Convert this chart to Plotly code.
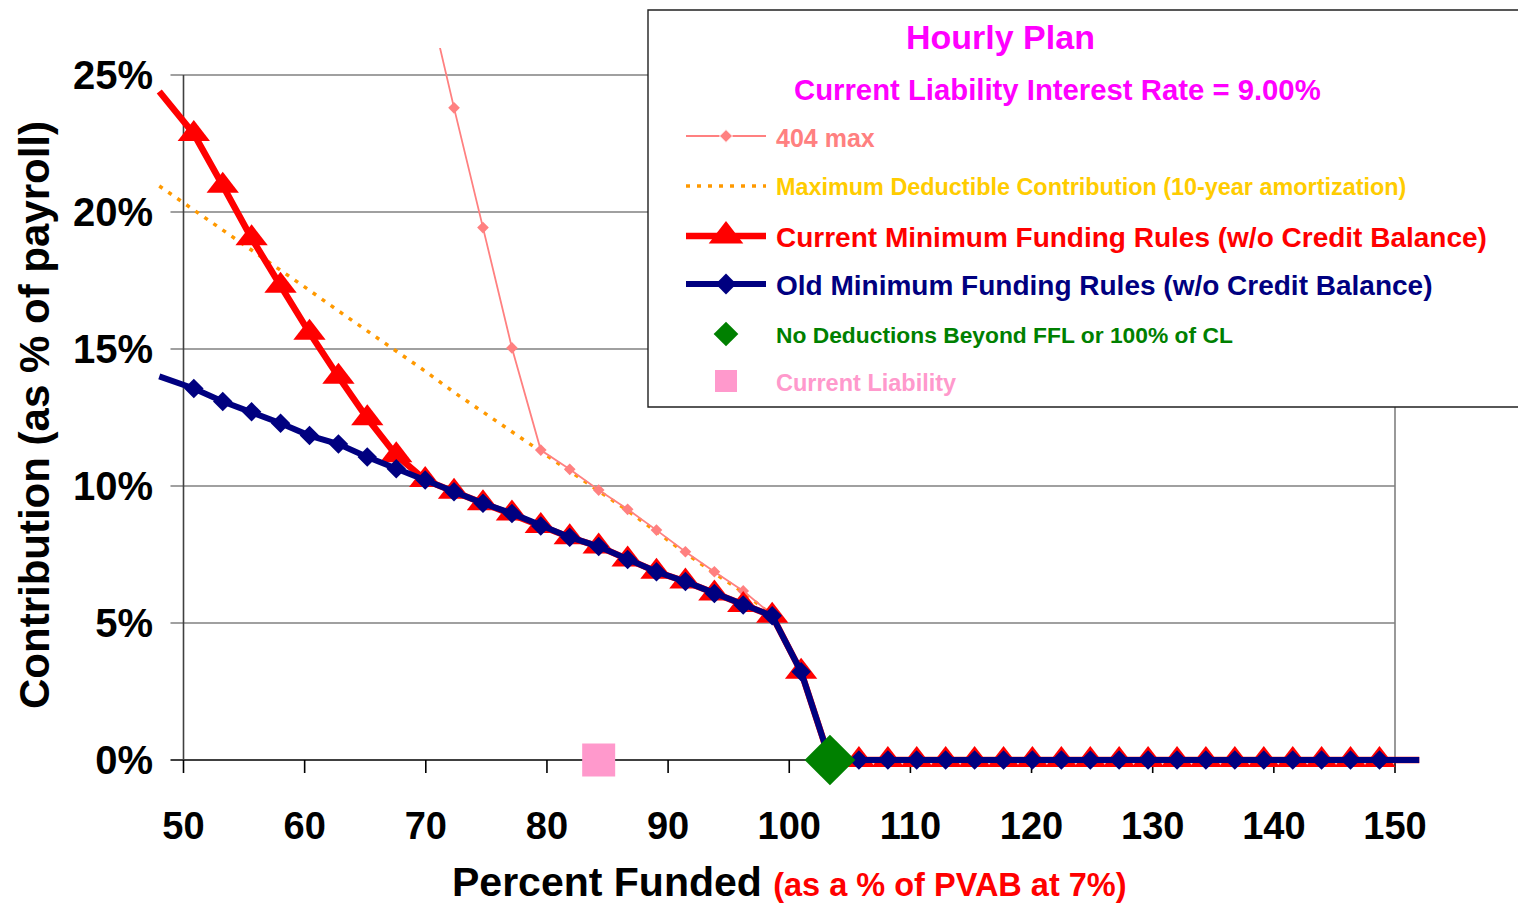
import plotly.graph_objects as go

# ---------------------------------------------------------------------------
# Data: contribution as % of payroll vs. percent funded (as % of PVAB at 7%)
# ---------------------------------------------------------------------------
funded = [48.00, 50.85, 53.24, 55.62, 58.01, 60.40, 62.79, 65.17, 67.56, 69.95,
          72.33, 74.72, 77.11, 79.49, 81.88, 84.27, 86.66, 89.04, 91.43, 93.82,
          96.20, 98.59, 100.98, 103.36, 105.75, 108.14, 110.52, 112.91, 115.30, 117.69,
          120.07, 122.46, 124.85, 127.23, 129.62, 132.01, 134.39, 136.78, 139.17, 141.56,
          143.94, 146.33, 148.72, 152.00]

max_404 = [None, None, None, None, None, None, None, None, None, 28.30,
           23.80, 19.43, 15.04, 11.31, 10.61, 9.85, 9.15, 8.39, 7.60, 6.87,
           6.17, 5.30, None, None, None, None, None, None, None, None,
           None, None, None, None, None, None, None, None, None, None,
           None, None, None, None]

max_deductible = [20.95, 20.08, 19.35, 18.59, 17.87, 17.14, 16.39, 15.67, 14.91, 14.19,
                  13.42, 12.70, 11.97, 11.25, 10.55, 9.80, 9.10, 8.33, 7.55, 6.82,
                  6.12, 5.28, None, None, None, None, None, None, None, None,
                  None, None, None, None, None, None, None, None, None, None,
                  None, None, None, None]

current_rules = [24.40, 22.85, 20.96, 19.04, 17.31, 15.59, 13.99, 12.47, 11.12, 10.22,
                 9.79, 9.37, 9.00, 8.54, 8.13, 7.79, 7.32, 6.87, 6.51, 6.08,
                 5.66, 5.26, 3.22, 0.00, 0.00, 0.00, 0.00, 0.00, 0.00, 0.00,
                 0.00, 0.00, 0.00, 0.00, 0.00, 0.00, 0.00, 0.00, 0.00, 0.00,
                 0.00, 0.00, 0.00, 0.00]

old_rules = [14.00, 13.56, 13.08, 12.71, 12.29, 11.84, 11.53, 11.06, 10.63, 10.22,
             9.79, 9.37, 9.00, 8.54, 8.13, 7.79, 7.32, 6.87, 6.51, 6.08,
             5.66, 5.26, 3.22, 0.00, 0.00, 0.00, 0.00, 0.00, 0.00, 0.00,
             0.00, 0.00, 0.00, 0.00, 0.00, 0.00, 0.00, 0.00, 0.00, 0.00,
             0.00, 0.00, 0.00, 0.00]

ffl_funded = [103.36]
ffl_value = [0.0]
cl_funded = [84.27]
cl_value = [0.0]

x_ticks = [50, 60, 70, 80, 90, 100, 110, 120, 130, 140, 150]
x_tick_labels = ["50", "60", "70", "80", "90", "100", "110", "120", "130", "140", "150"]
y_ticks = [0, 5, 10, 15, 20, 25]
y_tick_labels = ["0%", "5%", "10%", "15%", "20%", "25%"]

legend_title = "Hourly Plan"
legend_subtitle = "Current Liability Interest Rate = 9.00%"
names = ["404 max",
         "Maximum Deductible Contribution (10-year amortization)",
         "Current Minimum Funding Rules (w/o Credit Balance)",
         "Old Minimum Funding Rules (w/o Credit Balance)",
         "No Deductions Beyond FFL or 100% of CL",
         "Current Liability"]

# ---------------------------------------------------------------------------
# Geometry (pixels) and conversions
# ---------------------------------------------------------------------------
W, H = 1518, 906
PL, PR, PT, PB = 154, 1422, 48, 800
X_RANGE = [47.565, 152.229]
Y_RANGE = [-1.460, 25.985]


def px_x(px):
    return X_RANGE[0] + (px - PL) / (PR - PL) * (X_RANGE[1] - X_RANGE[0])


def px_y(py):
    return Y_RANGE[0] + (PB - py) / (PB - PT) * (Y_RANGE[1] - Y_RANGE[0])


def paper_x(px):
    return (px - PL) / (PR - PL)


def paper_y(py):
    return (PB - py) / (PB - PT)


SANS = "Liberation Sans, Arial, sans-serif"

C_404 = "#FF8080"
C_MAXD = "#FF9900"
C_MAXD_TXT = "#FFCC00"
C_CUR = "#FF0000"
C_OLD = "#000080"
C_FFL = "#008000"
C_CL = "#FF99CC"
C_TITLE = "#FF00FF"


def end_hidden(n, s):
    return [0] + [s] * (n - 2) + [0]


fig = go.Figure()

fig.add_trace(go.Scatter(
    x=funded, y=max_deductible, mode="lines",
    line=dict(color=C_MAXD, width=3.5, dash="4px,7px"), hoverinfo="skip"))

fig.add_trace(go.Scatter(
    x=funded, y=max_404, mode="lines+markers",
    line=dict(color=C_404, width=1.8),
    marker=dict(symbol="diamond", size=9, color=C_404, opacity=1), hoverinfo="skip"))

fig.add_trace(go.Scatter(
    x=funded, y=current_rules, mode="lines+markers",
    line=dict(color=C_CUR, width=6.5),
    marker=dict(symbol="triangle-up", size=end_hidden(len(funded), 28), color=C_CUR,
                opacity=1, line=dict(width=0)),
    hoverinfo="skip"))

fig.add_trace(go.Scatter(
    x=funded, y=old_rules, mode="lines+markers",
    line=dict(color=C_OLD, width=6),
    marker=dict(symbol="diamond", size=end_hidden(len(funded), 15), color=C_OLD,
                opacity=1, line=dict(width=0)),
    hoverinfo="skip"))

fig.add_trace(go.Scatter(
    x=ffl_funded, y=ffl_value, mode="markers",
    marker=dict(symbol="diamond", size=39, color=C_FFL, opacity=1, line=dict(width=0)),
    hoverinfo="skip"))

fig.add_trace(go.Scatter(
    x=cl_funded, y=cl_value, mode="markers",
    marker=dict(symbol="square", size=33, color=C_CL, opacity=1, line=dict(width=0)),
    hoverinfo="skip"))

# ---------------------------------------------------------------------------
# Legend panel samples
# ---------------------------------------------------------------------------
sx0, sx1, sxm = px_x(686), px_x(766), px_x(726)
row_py = [136, 186, 236, 284, 334, 381]
text_py = [138, 187, 237, 285, 335, 383]

fig.add_trace(go.Scatter(
    x=[sx0, sxm, sx1], y=[px_y(row_py[0])] * 3, mode="lines+markers",
    line=dict(color=C_404, width=1.8),
    marker=dict(symbol="diamond", size=[0, 10, 0], color=C_404, opacity=1),
    cliponaxis=False, hoverinfo="skip"))
fig.add_trace(go.Scatter(
    x=[sx0, sx1], y=[px_y(row_py[1])] * 2, mode="lines",
    line=dict(color=C_MAXD, width=3.5, dash="4px,7px"), cliponaxis=False,
    hoverinfo="skip"))
fig.add_trace(go.Scatter(
    x=[sx0, sxm, sx1], y=[px_y(row_py[2])] * 3, mode="lines+markers",
    line=dict(color=C_CUR, width=6.5),
    marker=dict(symbol="triangle-up", size=[0, 30, 0], color=C_CUR, opacity=1,
                line=dict(width=0)),
    cliponaxis=False, hoverinfo="skip"))
fig.add_trace(go.Scatter(
    x=[sx0, sxm, sx1], y=[px_y(row_py[3])] * 3, mode="lines+markers",
    line=dict(color=C_OLD, width=6),
    marker=dict(symbol="diamond", size=[0, 16, 0], color=C_OLD, opacity=1,
                line=dict(width=0)),
    cliponaxis=False, hoverinfo="skip"))
fig.add_trace(go.Scatter(
    x=[sxm], y=[px_y(row_py[4])], mode="markers",
    marker=dict(symbol="diamond", size=19, color=C_FFL, opacity=1, line=dict(width=0)),
    cliponaxis=False, hoverinfo="skip"))
fig.add_trace(go.Scatter(
    x=[sxm], y=[px_y(row_py[5])], mode="markers",
    marker=dict(symbol="square", size=22, color=C_CL, opacity=1, line=dict(width=0)),
    cliponaxis=False, hoverinfo="skip"))

# ---------------------------------------------------------------------------
# Plot-area furniture: gridlines, axis lines, ticks, frame
# ---------------------------------------------------------------------------
shapes = []
grid_left = px_x(170.5)
legend_left = px_x(648)
legend_bottom = px_y(407)
for v in y_ticks:
    right = legend_left if legend_bottom < v else 150
    color = "#000000" if v == 0 else "#808080"
    shapes.append(dict(type="line", xref="x", yref="y", x0=grid_left, x1=right,
                       y0=v, y1=v, line=dict(color=color, width=1.6), layer="below"))
shapes.append(dict(type="line", xref="x", yref="y", x0=150, x1=150, y0=0,
                   y1=legend_bottom, line=dict(color="#808080", width=1.6), layer="below"))
shapes.append(dict(type="line", xref="x", yref="y", x0=50, x1=50, y0=0, y1=25,
                   line=dict(color="#404040", width=1.6), layer="below"))
for v in x_ticks:
    shapes.append(dict(type="line", xref="x", yref="y", x0=v, x1=v, y0=0,
                       y1=px_y(773), line=dict(color="#000000", width=1.6), layer="below"))
# legend frame
shapes.append(dict(type="rect", xref="paper", yref="paper",
                   x0=paper_x(648), x1=paper_x(1540), y0=paper_y(407), y1=paper_y(10),
                   line=dict(color="#202020", width=1.4), fillcolor="rgba(0,0,0,0)",
                   layer="above"))

annotations = []
annotations.append(dict(xref="paper", yref="paper", x=paper_x(1001), y=paper_y(37),
                        text=legend_title, showarrow=False, xanchor="center", yanchor="middle",
                        font=dict(family=SANS, size=34, color=C_TITLE, weight="bold")))
annotations.append(dict(xref="paper", yref="paper", x=paper_x(1057), y=paper_y(90),
                        text=legend_subtitle, showarrow=False, xanchor="center",
                        yanchor="middle",
                        font=dict(family=SANS, size=29.3, color=C_TITLE, weight="bold")))
text_cols = [C_404, C_MAXD_TXT, C_CUR, C_OLD, C_FFL, C_CL]
text_sizes = [25, 23.4, 28, 28, 22.8, 23.5]
for name, col, sz, ty in zip(names, text_cols, text_sizes, text_py):
    annotations.append(dict(xref="paper", yref="paper", x=paper_x(774), y=paper_y(ty),
                            text=name, showarrow=False, xanchor="left", yanchor="middle",
                            font=dict(family=SANS, size=sz, color=col, weight="bold")))

# axis titles
annotations.append(dict(xref="paper", yref="paper", x=paper_x(35), y=paper_y(415),
                        text="Contribution (as % of payroll)", textangle=-90,
                        showarrow=False, xanchor="center", yanchor="middle",
                        font=dict(family=SANS, size=42, color="black", weight="bold")))
annotations.append(dict(xref="paper", yref="paper", x=paper_x(789), y=paper_y(882),
                        text=("Percent Funded <span style=\"color:#FF0000;font-size:32.5px\">"
                              "(as a % of PVAB at 7%)</span>"),
                        showarrow=False, xanchor="center", yanchor="middle",
                        font=dict(family=SANS, size=41, color="black", weight="bold")))

fig.update_layout(
    width=W, height=H, autosize=False,
    margin=dict(l=PL, r=W - PR, t=PT, b=H - PB, pad=0),
    paper_bgcolor="white", plot_bgcolor="white",
    showlegend=False,
    shapes=shapes, annotations=annotations,
    xaxis=dict(range=X_RANGE, showgrid=False, zeroline=False, showline=False, ticks="",
               tickmode="array", tickvals=x_ticks, ticktext=x_tick_labels,
               tickfont=dict(family=SANS, size=38, color="black", weight="bold"),
               ticklabelstandoff=0, fixedrange=True),
    yaxis=dict(range=Y_RANGE, showgrid=False, zeroline=False, showline=False, ticks="",
               tickmode="array", tickvals=y_ticks, ticktext=y_tick_labels,
               tickfont=dict(family=SANS, size=40, color="black", weight="bold"),
               fixedrange=True),
)

fig.write_html("out.html")
